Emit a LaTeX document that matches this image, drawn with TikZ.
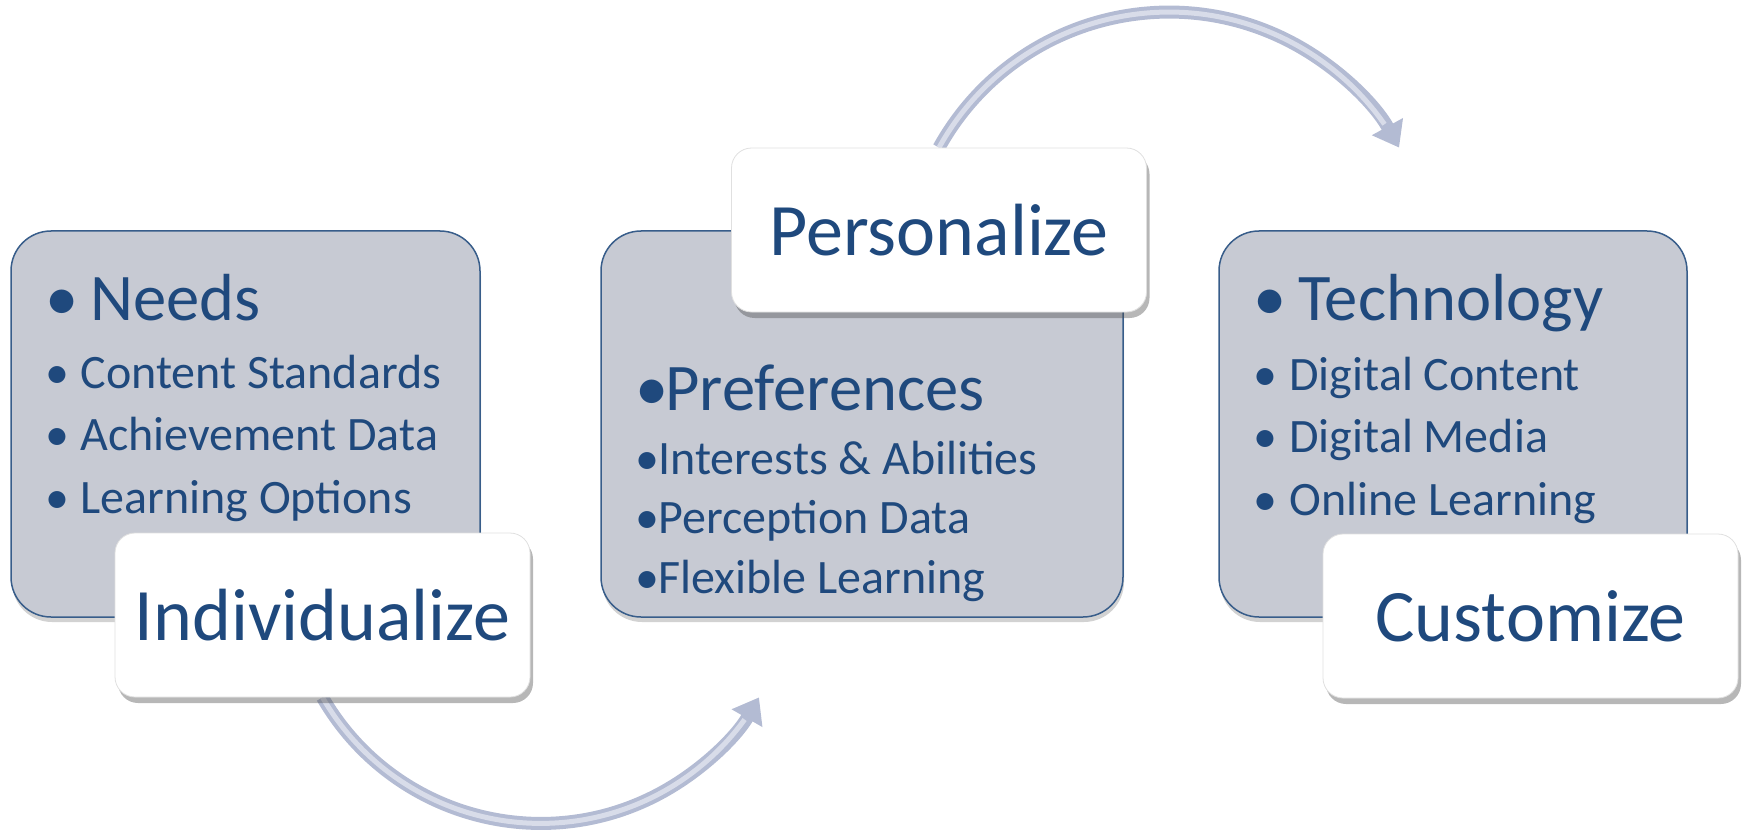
\documentclass[tikz,border=0pt]{standalone}
\usepackage{fontspec}
\setmainfont{Carlito}
\usetikzlibrary{arrows.meta,shadows,backgrounds,positioning}

\definecolor{inkblue}{HTML}{1F497D}
\definecolor{edgeblue}{HTML}{385D8A}
\definecolor{panelgray}{HTML}{C7CAD3}
\definecolor{tubedark}{HTML}{B3BBD3}
\definecolor{tubelight}{HTML}{D8DCE9}

\tikzset{
	panel/.style={draw=edgeblue, line width=1.5, fill=panelgray, rounded corners=40,
		inner sep=0, minimum height=386,
		drop shadow={shadow xshift=1, shadow yshift=-5, opacity=0.25, fill=black!70}},
	tag/.style={draw=black!12, line width=0.8, fill=white, rounded corners=20,
		inner sep=0, minimum width=415, minimum height=164, text=inkblue,
		font=\fontsize{74}{80}\selectfont,
		drop shadow={shadow xshift=3, shadow yshift=-6, opacity=0.4, fill=black!70}},
	headline/.style={anchor=base west, inner sep=0, text=inkblue, font=\fontsize{66.6}{72}\selectfont},
	subline/.style={anchor=base west, inner sep=0, text=inkblue, font=\fontsize{48}{54}\selectfont},
	tube/.style={draw=tubedark, line width=13, -{Triangle[length=24pt,width=34pt,fill=tubedark]}},
	tubeshine/.style={draw=tubelight, line width=5}
}

\begin{document}
\begin{tikzpicture}[x=1pt,y=1pt]

	%page frame, same size as the slide picture
	\useasboundingbox (0,0) rectangle (1743,-837);

	%gray panels
	\node[panel, minimum width=469] (needs) at (245.5,-424) {};
	\node[panel, minimum width=522] (prefs) at (862,-424) {};
	\node[panel, minimum width=468] (tech) at (1453,-424) {};

	%left panel
	\node[headline] (needsHead) at ([shift={(35,-90)}]needs.north west) {\makebox[45pt][l]{•}Needs};
	\foreach \entry/\ypos [count=\k] in {Content Standards/-158, Achievement Data/-220, Learning Options/-283}
	{
		\node[subline] (needs\k) at ([shift={(35,\ypos)}]needs.north west) {\makebox[35pt][l]{•}\entry};
	}

	%middle panel
	\node[headline] (prefsHead) at ([shift={(35,-180)}]prefs.north west) {\makebox[30pt][l]{•}Preferences};
	\foreach \entry/\ypos [count=\k] in {Interests \& Abilities/-244, Perception Data/-303, Flexible Learning/-363}
	{
		\node[subline] (prefs\k) at ([shift={(35,\ypos)}]prefs.north west) {\makebox[23pt][l]{•}\entry};
	}

	%right panel
	\node[headline] (techHead) at ([shift={(35,-90)}]tech.north west) {\makebox[45pt][l]{•}Technology};
	\foreach \entry/\ypos [count=\k] in {Digital Content/-160, Digital Media/-222, Online Learning/-285}
	{
		\node[subline] (tech\k) at ([shift={(35,\ypos)}]tech.north west) {\makebox[36pt][l]{•}\entry};
	}

	%white tags
	\node[tag] (indiv) at (322.5,-615) {Individualize};
	\node[tag] (pers) at (939,-230) {Personalize};
	\node[tag] (cust) at (1530.5,-616) {Customize};

	%arrows, behind the tags
	\begin{scope}[on background layer]
		\draw[tube] (indiv.south) arc[start angle=210, end angle=330, radius=252];
		\draw[tubeshine] (indiv.south) arc[start angle=210, end angle=324, radius=252];
		\draw[tube] (pers.north) arc[start angle=151, end angle=29, radius=263];
		\draw[tubeshine] (pers.north) arc[start angle=151, end angle=35, radius=263];
	\end{scope}

\end{tikzpicture}
\end{document}
